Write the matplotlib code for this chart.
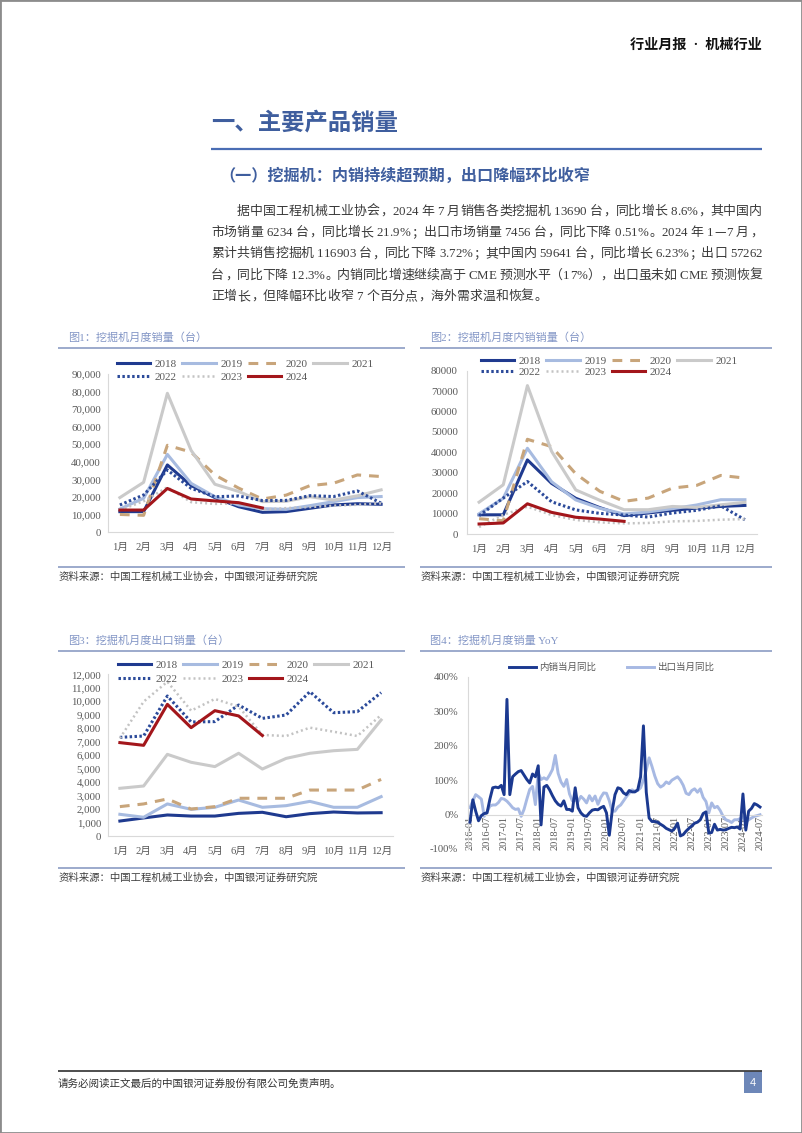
import matplotlib
matplotlib.use('Agg')
import matplotlib.pyplot as plt
from matplotlib.lines import Line2D
from matplotlib.patches import Rectangle
import numpy as np

# ---------------- data ----------------
months = ['1月', '2月', '3月', '4月', '5月', '6月', '7月', '8月', '9月', '10月', '11月', '12月']
years = ['2018', '2019', '2020', '2021', '2022', '2023', '2024']

# Fig1 total monthly sales (units)
total_2018 = [11600, 11600, 38200, 26500, 19600, 14400, 11200, 11600, 13500, 15400, 16100, 15800]
total_2019 = [13100, 19200, 44200, 27700, 20100, 15400, 13300, 12900, 15000, 17300, 19600, 20200]
total_2020 = [10000, 9500, 49400, 45500, 32500, 25000, 18800, 21000, 26400, 27800, 32500, 31600]
total_2021 = [19600, 28300, 79000, 46500, 27200, 23100, 17300, 17500, 20100, 18200, 20600, 24000]
total_2022 = [15400, 21100, 35300, 24900, 20100, 20500, 17900, 18000, 20700, 20200, 23400, 16400]
total_2023 = [12500, 17500, 25500, 17000, 16000, 16300, 12800, 13600, 14200, 15000, 15500, 16300]
total_2024 = [12500, 12500, 24800, 18800, 17700, 16700, 13700]

# Fig2 domestic monthly sales
dom_2018 = [9400, 9400, 36300, 24800, 17500, 12900, 9000, 10300, 11600, 12700, 13500, 14000]
dom_2019 = [9900, 17500, 42000, 25600, 16700, 12600, 9800, 10800, 12400, 14200, 16800, 16800]
dom_2020 = [7500, 6500, 46400, 42800, 29500, 20900, 16000, 17600, 22500, 23800, 28700, 27400]
dom_2021 = [15600, 24100, 72700, 40500, 21600, 16500, 11900, 11900, 13500, 13000, 14300, 15500]
dom_2022 = [9000, 17600, 25700, 15800, 11800, 10100, 9300, 8300, 10300, 11600, 13800, 7000]
dom_2023 = [3400, 9400, 13400, 9300, 6900, 5700, 5200, 5400, 6200, 6400, 7000, 7300]
dom_2024 = [4900, 5400, 14800, 10600, 8200, 7300, 6200]

# Fig3 export monthly sales
exp_2018 = [1110, 1340, 1560, 1480, 1480, 1680, 1760, 1430, 1660, 1780, 1710, 1730]
exp_2019 = [1610, 1390, 2380, 1980, 2130, 2670, 2130, 2250, 2570, 2130, 2130, 2920]
exp_2020 = [2180, 2380, 2750, 2000, 2180, 2800, 2800, 2800, 3410, 3410, 3410, 4200]
exp_2021 = [3540, 3710, 6060, 5470, 5150, 6140, 4970, 5760, 6140, 6330, 6430, 8610]
exp_2022 = [7320, 7420, 10390, 8460, 8490, 9720, 8730, 8980, 10710, 9150, 9230, 10640]
exp_2023 = [7250, 9970, 11450, 9300, 10170, 9600, 7500, 7420, 8040, 7740, 7420, 8980]
exp_2024 = [6930, 6730, 9770, 8040, 9300, 8910, 7456]

# Fig4 monthly YoY (%), 2016-01 .. 2024-07
yoy_domestic = [
    -22, 43, 10, -18, -3, 3, 5, 45, 78, 80, 78, 85,
    58, 335, 58, 110, 118, 125, 128, 115, 102, 92, 118, 110,
    142, -30, 80, 85, 72, 55, 40, 30, 25, 40, 15, 15,
    10, 78, 20, 5, -3, -5, 5, 13, 15, 14, 20, 24,
    5, -60, 10, 58, 78, 75, 63, 58, 70, 66, 66, 72,
    110, 258, 65, -10, -20, -20, -22, -28, -33, -40, -44, -48,
    -40, -25, -62, -58, -48, -40, -33, -25, -22, -15, 3, 8,
    -54, -52, -28, -45, -43, -45, -44, -40, -37, -38, -36, -42,
    60, -45, 10, 18, 32, 28, 22]
yoy_export = [
    20, 40, 58, 52, 45, -5, 8, 25, 28, 28, 35, 47,
    45, 39, 30, 20, 15, 17, -5, 15, 45, 73, 82, 29,
    121, 102, 107, 102, 115, 131, 172, 120, 95, 82, 102, 60,
    40, 42, 38, 53, 45, 34, 55, 40, 54, 30, 50, 63,
    62, 40, 10, 10, 22, 28, 40, 52, 62, 72, 68, 70,
    78, 100, 130, 165, 140, 112, 90, 80, 85, 95, 90, 100,
    105, 110, 100, 85, 62, 58, 70, 75, 65, 75, 50, 38,
    5, 34, 20, 24, 12, -5, -15, -18, -23, -15, -15, -12,
    -8, -22, -15, -10, -5, -3, -0.5]
yoy_ticklabels = ['2016-01', '2016-07', '2017-01', '2017-07', '2018-01', '2018-07',
                  '2019-01', '2019-07', '2020-01', '2020-07', '2021-01', '2021-07',
                  '2022-01', '2022-07', '2023-01', '2023-07', '2024-01', '2024-07']

fig1_data = dict(zip(years, [total_2018, total_2019, total_2020, total_2021, total_2022, total_2023, total_2024]))
fig2_data = dict(zip(years, [dom_2018, dom_2019, dom_2020, dom_2021, dom_2022, dom_2023, dom_2024]))
fig3_data = dict(zip(years, [exp_2018, exp_2019, exp_2020, exp_2021, exp_2022, exp_2023, exp_2024]))

# ---------------- page ----------------
W, H = 802, 1133
fig = plt.figure(figsize=(W / 100, H / 100), dpi=100, facecolor='white')

SERIF = ['Liberation Serif', 'Noto Sans CJK SC']
CJK = ['Noto Sans CJK SC', 'DejaVu Sans']
BLUE = '#3f5e9e'
FRAME = '#8193bf'
TITLE_C = '#8396c6'
TICK_C = '#595959'


def fx(x):
    return x / W


def fy(y):
    return 1 - y / H


def hline(x0, x1, y, color, lw):
    fig.add_artist(Line2D([fx(x0), fx(x1)], [fy(y), fy(y)], transform=fig.transFigure,
                          color=color, lw=lw, solid_capstyle='butt'))


# page border
fig.add_artist(Rectangle((0, 0), 1, 1, transform=fig.transFigure, fill=False,
                         edgecolor='#8c8c8c', lw=2))

# header
fig.text(fx(762), fy(45), '行业月报  ·  机械行业', fontsize=10.2, fontweight='bold',
         family=['Liberation Serif', 'Noto Sans CJK SC'], color='#111111',
         ha='right', va='center')

# section title
fig.text(fx(211), fy(122), '一、主要产品销量', fontsize=16.8, fontweight='bold',
         family=CJK, color=BLUE, ha='left', va='center')
hline(211, 762, 149, '#4a6db4', 1.6)
fig.text(fx(219), fy(176), '（一）挖掘机：内销持续超预期，出口降幅环比收窄', fontsize=11.6,
         fontweight='bold', family=CJK, color=BLUE, ha='left', va='center')


# paragraph with justified lines
def adv(c):
    table = {' ': 0.25, '.': 0.25, ',': 0.25, '%': 0.833, 'C': 0.667, 'M': 0.889,
             'E': 0.611, '-': 0.333}
    if c in table:
        return table[c]
    if c.isdigit():
        return 0.5
    if ord(c) < 0x2000:
        return 0.5
    return 1.0


def draw_line(s, x0, x1, yc, fs, color, justify=True):
    em = fs * 100 / 72
    advs = [adv(c) for c in s]
    nat = sum(advs) * em
    n = len(s)
    extra = (x1 - x0 - nat) / (n - 1) if (justify and n > 1) else 0
    x = x0
    base = yc + 0.36 * em
    for c, a in zip(s, advs):
        w = a * em
        if c != ' ':
            fam = ['Liberation Serif'] if ord(c) < 0x2000 else ['Noto Sans CJK SC']
            if c in '，。；：、）':
                ha, xx = 'left', x + 0.08 * em
            elif c == '（':
                ha, xx = 'right', x + w - 0.08 * em
            else:
                ha, xx = 'center', x + w / 2
            fig.text(fx(xx), fy(base), c, fontsize=fs, family=fam, color=color,
                     ha=ha, va='baseline')
        x += w + extra


para = [
    "据中国工程机械工业协会，2024 年 7 月销售各类挖掘机 13690 台，同比增长 8.6%，其中国内",
    "市场销量 6234 台，同比增长 21.9%；出口市场销量 7456 台，同比下降 0.51%。2024 年 1—7 月，",
    "累计共销售挖掘机 116903 台，同比下降 3.72%；其中国内 59641 台，同比增长 6.23%；出口 57262",
    "台，同比下降 12.3%。内销同比增速继续高于 CME 预测水平（17%），出口虽未如 CME 预测恢复",
    "正增长，但降幅环比收窄 7 个百分点，海外需求温和恢复。",
]
para_y = [210, 231.3, 252.5, 274, 295.2]
FS = 9.3
em_px = FS * 100 / 72
for i, (s, yc) in enumerate(zip(para, para_y)):
    x0 = 211 + 2 * em_px if i == 0 else 211
    draw_line(s, x0, 762, yc, FS, '#3a3a3a', justify=(i < len(para) - 1))

# footer
hline(58, 762, 1071, '#404040', 1.3)
fig.text(fx(58), fy(1084), '请务必阅读正文最后的中国银河证券股份有限公司免责声明。', fontsize=7.6,
         family=CJK, color='#333333', ha='left', va='center')
fig.add_artist(Rectangle((fx(744), fy(1093)), (762 - 744) / W, (1093 - 1071) / H,
                         transform=fig.transFigure, facecolor='#6d87b8', edgecolor='none'))
fig.text(fx(753), fy(1083), '4', fontsize=8, family=['Liberation Sans'], color='white',
         ha='center', va='center')

# ---------------- chart frames ----------------
SOURCE = '资料来源：中国工程机械工业协会，中国银河证券研究院'


def frame(x0, x1, y_title, y_top, y_bot, y_src, title):
    fig.text(fx(x0 + 10), fy(y_title), title, fontsize=8, family=SERIF, color=TITLE_C,
             ha='left', va='center')
    hline(x0, x1, y_top, FRAME, 1.1)
    hline(x0, x1, y_bot, FRAME, 1.1)
    fig.text(fx(x0 + 1), fy(y_src), SOURCE, fontsize=7.5, family=CJK, color='#404040',
             ha='left', va='center')


frame(58, 405, 338, 348, 567, 577, '图1：挖掘机月度销量（台）')
frame(420, 772, 338, 348, 567, 577, '图2：挖掘机月度内销销量（台）')
frame(58, 405, 641, 651, 868, 878, '图3：挖掘机月度出口销量（台）')
frame(420, 772, 641, 651, 868, 878, '图4：挖掘机月度销量 YoY')

styles = {
    '2018': dict(color='#1f3a8f', lw=2.2, ls='-'),
    '2019': dict(color='#a7bbe0', lw=2.2, ls='-'),
    '2020': dict(color='#c8a57b', lw=2.2, ls=(0, (3.2, 2.6))),
    '2021': dict(color='#cacaca', lw=2.2, ls='-'),
    '2022': dict(color='#2b4a9a', lw=2.2, ls=(0, (0.8, 0.8))),
    '2023': dict(color='#c3c3c3', lw=1.8, ls=(0, (0.8, 1.2))),
    '2024': dict(color='#a3161b', lw=2.2, ls='-'),
}
# legend order so that rows read 2018 2019 2020 2021 / 2022 2023 2024
legend_order = ['2018', '2022', '2019', '2023', '2020', '2024', '2021']


def axes_px(left, right, top, bottom):
    return fig.add_axes([fx(left), fy(bottom), (right - left) / W, (bottom - top) / H])


def style_axes(ax, ypad, xpad, ysize, xsize):
    for s in ['top', 'right']:
        ax.spines[s].set_visible(False)
    for s in ['left', 'bottom']:
        ax.spines[s].set_color('#d9d9d9')
        ax.spines[s].set_linewidth(0.8)
    ax.tick_params(axis='both', length=0, labelcolor=TICK_C)
    ax.tick_params(axis='y', pad=ypad, labelsize=ysize)
    ax.tick_params(axis='x', pad=xpad, labelsize=xsize)
    for lab in ax.get_xticklabels() + ax.get_yticklabels():
        lab.set_fontfamily(SERIF)
    ax.set_facecolor('none')


def month_chart(rect, data, ymax, ystep, comma, leg_xy, labelspacing, ypad):
    ax = axes_px(*rect)
    lines = {}
    for yr in years:
        vals = data[yr]
        st = styles[yr]
        ln, = ax.plot(np.arange(len(vals)), vals, color=st['color'], lw=st['lw'], ls=st['ls'],
                      label=yr, solid_joinstyle='round', dash_capstyle='butt')
        lines[yr] = ln
    ax.set_xlim(-0.5, 11.5)
    ax.set_ylim(0, ymax)
    yt = np.arange(0, ymax + 1, ystep)
    ax.set_yticks(yt)
    ax.set_yticklabels([f'{int(v):,}' if comma else f'{int(v)}' for v in yt])
    ax.set_xticks(np.arange(12))
    ax.set_xticklabels(months)
    style_axes(ax, ypad, 8, 7.8, 7.6)
    ax.legend([lines[y] for y in legend_order], legend_order, loc='upper left',
              bbox_to_anchor=(fx(leg_xy[0]), fy(leg_xy[1])),
              bbox_transform=fig.transFigure, ncol=4, frameon=False, borderpad=0,
              borderaxespad=0, handlelength=3.0, handletextpad=0.4, columnspacing=0.5,
              labelspacing=labelspacing, prop=dict(family=SERIF, size=8),
              labelcolor=TICK_C)
    return ax


month_chart((108, 393, 374, 532), fig1_data, 90000, 10000, True, (117, 359), 0.3, 5)
month_chart((467, 757, 370.7, 534), fig2_data, 80000, 10000, False, (481, 356), 0.15, 6.5)
month_chart((108, 393, 674.3, 836), fig3_data, 12000, 1000, True, (118, 660), 0.4, 5)

# ---------------- chart 4 ----------------
ax4 = axes_px(468, 762, 677, 849)
ax4.spines['bottom'].set_position(('data', 0))
xi = np.arange(len(yoy_domestic))
ln_exp, = ax4.plot(np.arange(len(yoy_export)), yoy_export, color='#a7b9e3', lw=2.1,
                   solid_joinstyle='round', zorder=2)
ln_dom, = ax4.plot(xi, yoy_domestic, color='#1b3990', lw=2.1, solid_joinstyle='round',
                   zorder=3)
ax4.set_xlim(-0.7, 102.7)
ax4.set_ylim(-100, 400)
yt4 = np.arange(-100, 401, 100)
ax4.set_yticks(yt4)
ax4.set_yticklabels([f'{v}%' for v in yt4])
ax4.set_xticks(np.arange(0, len(yoy_domestic), 6))
ax4.set_xticklabels(yoy_ticklabels)
style_axes(ax4, 7, 1.2, 7.7, 7.4)
ax4.tick_params(axis='x', labelrotation=90)
ax4.legend([ln_dom, ln_exp], ['内销当月同比', '出口当月同比'], loc='upper left',
           bbox_to_anchor=(fx(509), fy(663)), bbox_transform=fig.transFigure, ncol=2,
           frameon=False, borderpad=0, borderaxespad=0, handlelength=2.9,
           handletextpad=0.25, columnspacing=3.3, prop=dict(family=CJK, size=6.8),
           labelcolor=TICK_C)

fig.savefig('out.png', dpi=100, facecolor='white')
